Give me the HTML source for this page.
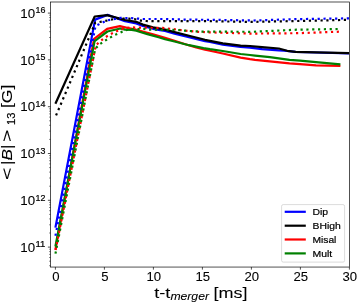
<!DOCTYPE html><html><head><meta charset="utf-8"><style>html,body{margin:0;padding:0;background:#fff;overflow:hidden}svg{will-change:transform;position:absolute;left:0;top:0}svg text{font-family:"Liberation Sans",sans-serif;fill:#000;stroke:#000;stroke-width:0.08px}svg text.sm{stroke-width:0.2px}</style></head><body><svg width="357" height="304" viewBox="0 0 357 304">
<rect width="357" height="304" fill="#fff"/>
<clipPath id="c"><rect x="50.5" y="2.0" width="299.0" height="265.05"/></clipPath>
<g clip-path="url(#c)" fill="none" stroke-linejoin="round">
<polyline points="55.40,227.60 95.10,19.60 107.50,14.90 125.00,21.20 136.20,23.40 142.90,25.90 153.00,28.80 160.00,30.10 165.00,30.90 174.50,33.60 189.00,37.20 205.00,41.20 210.00,42.00 222.80,44.60 240.60,46.90 250.00,47.70 262.00,49.10 278.80,50.40 283.80,50.60 287.20,51.00 295.60,51.90 316.00,52.50 349.00,53.30" stroke="#0000ff" stroke-width="2.2" stroke-linecap="butt"/>
<polyline points="55.40,103.70 94.70,16.50 107.00,15.10 125.00,20.00 136.20,21.80 142.90,24.60 153.00,27.40 160.00,28.60 165.00,29.60 174.50,32.10 189.00,35.70 205.00,39.80 210.00,40.80 222.80,43.40 240.60,45.70 250.00,46.00 262.00,47.10 278.80,48.50 287.20,50.80 295.60,51.80 316.00,52.40 349.00,53.20" stroke="#000" stroke-width="2.2" stroke-linecap="butt"/>
<polyline points="55.40,250.00 94.10,38.80 107.10,28.90 119.90,26.20 125.00,27.30 128.00,28.10 136.20,29.70 153.00,34.30 165.00,37.80 174.50,40.80 184.60,44.00 196.20,47.50 205.00,49.70 210.00,50.80 222.80,53.50 240.60,57.60 250.00,59.20 255.00,59.90 269.80,61.40 289.50,63.40 300.00,64.20 316.00,65.30 340.40,65.90" stroke="#ff0000" stroke-width="2.2" stroke-linecap="butt"/>
<polyline points="55.40,246.50 94.60,41.10 107.40,31.50 120.30,28.50 125.00,29.60 131.70,29.90 136.20,30.70 147.40,34.10 158.60,37.30 165.00,39.20 174.50,41.50 189.00,45.20 203.50,48.10 210.00,49.20 222.80,51.00 240.60,54.00 250.00,55.00 255.00,55.60 269.80,57.10 289.50,59.80 300.00,60.60 316.00,62.10 340.40,64.40" stroke="#008000" stroke-width="2.2" stroke-linecap="butt"/>
<polyline points="55.40,236.00 95.50,26.00 107.00,20.50 119.90,17.90 131.50,18.10 142.90,19.00 165.00,19.00 185.00,19.60 210.00,19.80 254.00,20.50 297.40,19.10 347.70,18.40 349.40,18.40" stroke="#0000ff" stroke-width="2.2" stroke-dasharray="2.20 3.63" stroke-dashoffset="5.60"/>
<polyline points="55.40,117.00 95.30,22.80 105.40,20.90 116.90,18.40 129.00,18.70 134.90,19.20 140.70,20.60 146.30,21.00 151.90,21.20 210.00,21.20 252.00,21.90 298.00,21.00 345.60,19.90 349.40,19.80" stroke="#000" stroke-width="2.2" stroke-dasharray="2.20 3.63" stroke-dashoffset="4.13"/>
<polyline points="55.40,251.00 95.80,45.20 101.00,40.70 105.80,37.00 110.80,34.00 116.10,31.40 121.00,29.30 127.20,27.90 132.80,27.40 139.00,27.60 162.50,27.90 173.80,29.20 185.40,30.70 197.00,31.70 208.50,32.30 251.00,33.60 297.40,33.20 338.90,31.70" stroke="#ff0000" stroke-width="2.2" stroke-dasharray="2.20 3.63" stroke-dashoffset="4.60"/>
<polyline points="55.40,254.00 95.20,48.60 99.80,44.30 104.70,40.90 109.70,37.80 114.80,35.00 120.50,32.60 125.00,30.40 131.70,29.00 143.50,29.00 149.00,29.60 160.90,29.90 168.00,29.70 179.60,30.20 191.20,31.10 202.80,31.60 253.00,31.80 296.40,29.70 338.00,29.00" stroke="#008000" stroke-width="2.2" stroke-dasharray="2.20 3.63" stroke-dashoffset="5.41"/>
</g>
<rect x="50.5" y="2.0" width="299.0" height="265.05" fill="none" stroke="#000" stroke-width="0.68"/>
<line x1="55.4" y1="267.05" x2="55.4" y2="269.65000000000003" stroke="#000" stroke-width="0.68"/>
<text x="55.8" y="281.2" font-size="12.6" text-anchor="middle" textLength="7.3" lengthAdjust="spacingAndGlyphs">0</text>
<line x1="104.4" y1="267.05" x2="104.4" y2="269.65000000000003" stroke="#000" stroke-width="0.68"/>
<text x="104.8" y="281.2" font-size="12.6" text-anchor="middle" textLength="7.3" lengthAdjust="spacingAndGlyphs">5</text>
<line x1="153.4" y1="267.05" x2="153.4" y2="269.65000000000003" stroke="#000" stroke-width="0.68"/>
<text x="153.8" y="281.2" font-size="12.6" text-anchor="middle" textLength="14.6" lengthAdjust="spacingAndGlyphs">10</text>
<line x1="202.4" y1="267.05" x2="202.4" y2="269.65000000000003" stroke="#000" stroke-width="0.68"/>
<text x="202.8" y="281.2" font-size="12.6" text-anchor="middle" textLength="14.6" lengthAdjust="spacingAndGlyphs">15</text>
<line x1="251.4" y1="267.05" x2="251.4" y2="269.65000000000003" stroke="#000" stroke-width="0.68"/>
<text x="251.8" y="281.2" font-size="12.6" text-anchor="middle" textLength="14.6" lengthAdjust="spacingAndGlyphs">20</text>
<line x1="300.4" y1="267.05" x2="300.4" y2="269.65000000000003" stroke="#000" stroke-width="0.68"/>
<text x="300.8" y="281.2" font-size="12.6" text-anchor="middle" textLength="14.6" lengthAdjust="spacingAndGlyphs">25</text>
<line x1="349.4" y1="267.05" x2="349.4" y2="269.65000000000003" stroke="#000" stroke-width="0.68"/>
<text x="349.8" y="281.2" font-size="12.6" text-anchor="middle" textLength="14.6" lengthAdjust="spacingAndGlyphs">30</text>
<line x1="47.9" y1="247.1" x2="50.5" y2="247.1" stroke="#000" stroke-width="0.68"/>
<text x="20.3" y="251.8" font-size="12.6" textLength="14.8" lengthAdjust="spacingAndGlyphs">10</text>
<text class="sm" x="35.5" y="247.4" font-size="8.7" textLength="9.9" lengthAdjust="spacingAndGlyphs">11</text>
<line x1="47.9" y1="200.3" x2="50.5" y2="200.3" stroke="#000" stroke-width="0.68"/>
<text x="20.3" y="205.0" font-size="12.6" textLength="14.8" lengthAdjust="spacingAndGlyphs">10</text>
<text class="sm" x="35.5" y="200.6" font-size="8.7" textLength="9.9" lengthAdjust="spacingAndGlyphs">12</text>
<line x1="47.9" y1="153.5" x2="50.5" y2="153.5" stroke="#000" stroke-width="0.68"/>
<text x="20.3" y="158.2" font-size="12.6" textLength="14.8" lengthAdjust="spacingAndGlyphs">10</text>
<text class="sm" x="35.5" y="153.8" font-size="8.7" textLength="9.9" lengthAdjust="spacingAndGlyphs">13</text>
<line x1="47.9" y1="106.7" x2="50.5" y2="106.7" stroke="#000" stroke-width="0.68"/>
<text x="20.3" y="111.4" font-size="12.6" textLength="14.8" lengthAdjust="spacingAndGlyphs">10</text>
<text class="sm" x="35.5" y="107.0" font-size="8.7" textLength="9.9" lengthAdjust="spacingAndGlyphs">14</text>
<line x1="47.9" y1="59.9" x2="50.5" y2="59.9" stroke="#000" stroke-width="0.68"/>
<text x="20.3" y="64.6" font-size="12.6" textLength="14.8" lengthAdjust="spacingAndGlyphs">10</text>
<text class="sm" x="35.5" y="60.2" font-size="8.7" textLength="9.9" lengthAdjust="spacingAndGlyphs">15</text>
<line x1="47.9" y1="13.1" x2="50.5" y2="13.1" stroke="#000" stroke-width="0.68"/>
<text x="20.3" y="17.8" font-size="12.6" textLength="14.8" lengthAdjust="spacingAndGlyphs">10</text>
<text class="sm" x="35.5" y="13.4" font-size="8.7" textLength="9.9" lengthAdjust="spacingAndGlyphs">16</text>
<line x1="49.0" y1="265.7" x2="50.5" y2="265.7" stroke="#000" stroke-width="0.45"/>
<line x1="49.0" y1="261.2" x2="50.5" y2="261.2" stroke="#000" stroke-width="0.45"/>
<line x1="49.0" y1="257.5" x2="50.5" y2="257.5" stroke="#000" stroke-width="0.45"/>
<line x1="49.0" y1="254.4" x2="50.5" y2="254.4" stroke="#000" stroke-width="0.45"/>
<line x1="49.0" y1="251.6" x2="50.5" y2="251.6" stroke="#000" stroke-width="0.45"/>
<line x1="49.0" y1="249.2" x2="50.5" y2="249.2" stroke="#000" stroke-width="0.45"/>
<line x1="49.0" y1="233.0" x2="50.5" y2="233.0" stroke="#000" stroke-width="0.45"/>
<line x1="49.0" y1="224.8" x2="50.5" y2="224.8" stroke="#000" stroke-width="0.45"/>
<line x1="49.0" y1="218.9" x2="50.5" y2="218.9" stroke="#000" stroke-width="0.45"/>
<line x1="49.0" y1="214.4" x2="50.5" y2="214.4" stroke="#000" stroke-width="0.45"/>
<line x1="49.0" y1="210.7" x2="50.5" y2="210.7" stroke="#000" stroke-width="0.45"/>
<line x1="49.0" y1="207.5" x2="50.5" y2="207.5" stroke="#000" stroke-width="0.45"/>
<line x1="49.0" y1="204.8" x2="50.5" y2="204.8" stroke="#000" stroke-width="0.45"/>
<line x1="49.0" y1="202.4" x2="50.5" y2="202.4" stroke="#000" stroke-width="0.45"/>
<line x1="49.0" y1="186.2" x2="50.5" y2="186.2" stroke="#000" stroke-width="0.45"/>
<line x1="49.0" y1="178.0" x2="50.5" y2="178.0" stroke="#000" stroke-width="0.45"/>
<line x1="49.0" y1="172.1" x2="50.5" y2="172.1" stroke="#000" stroke-width="0.45"/>
<line x1="49.0" y1="167.6" x2="50.5" y2="167.6" stroke="#000" stroke-width="0.45"/>
<line x1="49.0" y1="163.9" x2="50.5" y2="163.9" stroke="#000" stroke-width="0.45"/>
<line x1="49.0" y1="160.7" x2="50.5" y2="160.7" stroke="#000" stroke-width="0.45"/>
<line x1="49.0" y1="158.0" x2="50.5" y2="158.0" stroke="#000" stroke-width="0.45"/>
<line x1="49.0" y1="155.6" x2="50.5" y2="155.6" stroke="#000" stroke-width="0.45"/>
<line x1="49.0" y1="139.4" x2="50.5" y2="139.4" stroke="#000" stroke-width="0.45"/>
<line x1="49.0" y1="131.1" x2="50.5" y2="131.1" stroke="#000" stroke-width="0.45"/>
<line x1="49.0" y1="125.3" x2="50.5" y2="125.3" stroke="#000" stroke-width="0.45"/>
<line x1="49.0" y1="120.8" x2="50.5" y2="120.8" stroke="#000" stroke-width="0.45"/>
<line x1="49.0" y1="117.1" x2="50.5" y2="117.1" stroke="#000" stroke-width="0.45"/>
<line x1="49.0" y1="113.9" x2="50.5" y2="113.9" stroke="#000" stroke-width="0.45"/>
<line x1="49.0" y1="111.2" x2="50.5" y2="111.2" stroke="#000" stroke-width="0.45"/>
<line x1="49.0" y1="108.8" x2="50.5" y2="108.8" stroke="#000" stroke-width="0.45"/>
<line x1="49.0" y1="92.6" x2="50.5" y2="92.6" stroke="#000" stroke-width="0.45"/>
<line x1="49.0" y1="84.3" x2="50.5" y2="84.3" stroke="#000" stroke-width="0.45"/>
<line x1="49.0" y1="78.5" x2="50.5" y2="78.5" stroke="#000" stroke-width="0.45"/>
<line x1="49.0" y1="74.0" x2="50.5" y2="74.0" stroke="#000" stroke-width="0.45"/>
<line x1="49.0" y1="70.2" x2="50.5" y2="70.2" stroke="#000" stroke-width="0.45"/>
<line x1="49.0" y1="67.1" x2="50.5" y2="67.1" stroke="#000" stroke-width="0.45"/>
<line x1="49.0" y1="64.4" x2="50.5" y2="64.4" stroke="#000" stroke-width="0.45"/>
<line x1="49.0" y1="62.0" x2="50.5" y2="62.0" stroke="#000" stroke-width="0.45"/>
<line x1="49.0" y1="45.8" x2="50.5" y2="45.8" stroke="#000" stroke-width="0.45"/>
<line x1="49.0" y1="37.5" x2="50.5" y2="37.5" stroke="#000" stroke-width="0.45"/>
<line x1="49.0" y1="31.7" x2="50.5" y2="31.7" stroke="#000" stroke-width="0.45"/>
<line x1="49.0" y1="27.1" x2="50.5" y2="27.1" stroke="#000" stroke-width="0.45"/>
<line x1="49.0" y1="23.4" x2="50.5" y2="23.4" stroke="#000" stroke-width="0.45"/>
<line x1="49.0" y1="20.3" x2="50.5" y2="20.3" stroke="#000" stroke-width="0.45"/>
<line x1="49.0" y1="17.6" x2="50.5" y2="17.6" stroke="#000" stroke-width="0.45"/>
<line x1="49.0" y1="15.2" x2="50.5" y2="15.2" stroke="#000" stroke-width="0.45"/>
<text x="154.2" y="297.7" font-size="15.4" textLength="16.2" lengthAdjust="spacingAndGlyphs">t-t</text>
<text x="170.4" y="299.9" font-size="10.8" font-style="italic" textLength="38.6" lengthAdjust="spacingAndGlyphs">merger</text>
<text x="213.4" y="297.7" font-size="15.4" textLength="34" lengthAdjust="spacingAndGlyphs">[ms]</text>
<g transform="translate(12.3,179.5) rotate(-90)">
<text x="-0.6" y="0" font-size="14.7" textLength="12.2" lengthAdjust="spacingAndGlyphs">&lt;</text>
<text x="14.6" y="0" font-size="14.7" textLength="20.4" lengthAdjust="spacingAndGlyphs">|<tspan font-style="italic">B</tspan>|</text>
<text x="37.6" y="0" font-size="14.7" textLength="12.2" lengthAdjust="spacingAndGlyphs">&gt;</text>
<text class="sm" x="54.6" y="2.6" font-size="10.8" textLength="12.4" lengthAdjust="spacingAndGlyphs">13</text>
<text x="71.4" y="0" font-size="14.7" textLength="23.4" lengthAdjust="spacingAndGlyphs">[G]</text>
</g>
<rect x="281.6" y="204.6" width="63.0" height="57.5" rx="1.6" fill="#fff" fill-opacity="0.8" stroke="#d2d2d2" stroke-width="0.8"/>
<line x1="284.7" y1="211.8" x2="305.8" y2="211.8" stroke="#0000ff" stroke-width="2.2"/>
<text class="sm" x="312.5" y="215.3" font-size="9.5" textLength="15.6" lengthAdjust="spacingAndGlyphs">Dip</text>
<line x1="284.7" y1="225.7" x2="305.8" y2="225.7" stroke="#000" stroke-width="2.2"/>
<text class="sm" x="312.5" y="229.2" font-size="9.5" textLength="28.2" lengthAdjust="spacingAndGlyphs">BHigh</text>
<line x1="284.7" y1="239.5" x2="305.8" y2="239.5" stroke="#ff0000" stroke-width="2.2"/>
<text class="sm" x="312.5" y="243.0" font-size="9.5" textLength="23.9" lengthAdjust="spacingAndGlyphs">Misal</text>
<line x1="284.7" y1="253.4" x2="305.8" y2="253.4" stroke="#008000" stroke-width="2.2"/>
<text class="sm" x="312.5" y="256.9" font-size="9.5" textLength="19.7" lengthAdjust="spacingAndGlyphs">Mult</text>
</svg></body></html>
